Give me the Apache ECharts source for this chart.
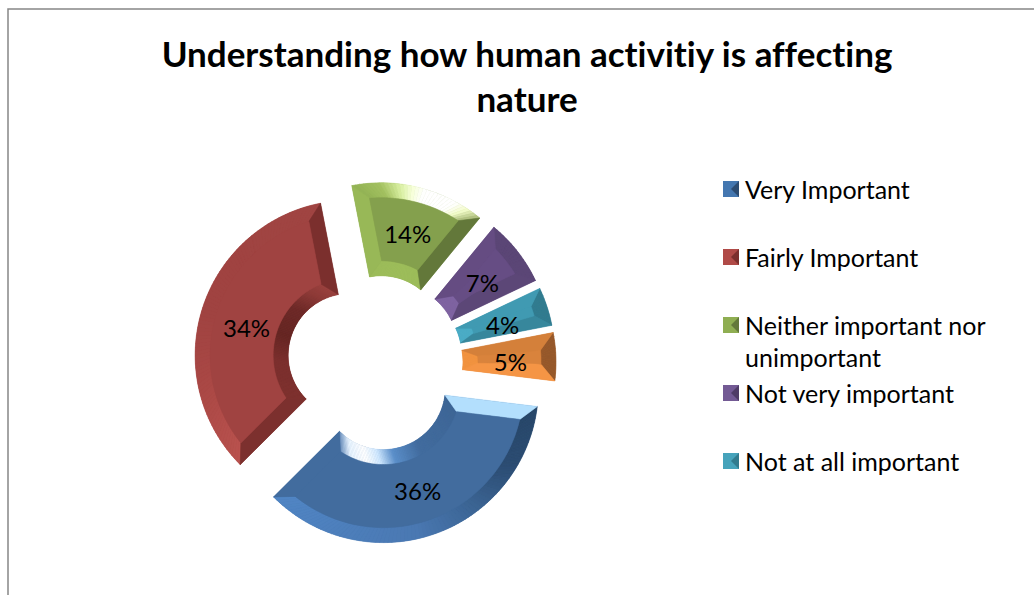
<!DOCTYPE html>
<html>
<head>
<meta charset="utf-8">
<style>html,body{margin:0;padding:0;background:#fff;overflow:hidden}#c{width:1034px;height:595px}#c text{font-variant-ligatures:none}</style>
<script src="https://cdn.jsdelivr.net/npm/echarts@6/dist/echarts.min.js"></script>
</head>
<body>
<div id="c"></div>
<script>
var chartTitle = 'Understanding how human activitiy is affecting\nnature';
var categories = ['Very Important','Fairly Important','Neither important nor unimportant','Not very important','Not at all important','Other'];
var values = [35.6,34.4,14,7,4,5];
var legendNames = categories.slice(0,5);
var labelOffsets = [[-2,-3],[3,5],[-1,4],[-1,4],[-3,4],[-2,3]];
var faceColors = ['#426c9e','#a04341','#84a04d','#664d84','#409ab2','#d9833c'];
var iconColors = ['#4477b0','#b04a47','#8fae52','#735a94','#46a3bb','#e08a3e'];
var iconDark = ['#2c4c72','#7b2f2d','#63783a','#4f3c66','#317b8e','#95582a'];
var outerBands = [
  [[0,'#274668'],[.18,'#2c4c72'],[.35,'#3b6493'],[.55,'#4a78b2'],[1,'#5085c4']],
  [[0,'#b9524e'],[.25,'#aa4845'],[.5,'#a04341'],[1,'#a04442']],
  [[0,'#92b254'],[.2,'#a3c160'],[.35,'#d8efa0'],[.45,'#f6ffd8'],[.55,'#ffffff'],[.8,'#ffffff'],[.9,'#f1fbc6'],[1,'#a8b878']],
  [[0,'#5b4676'],[1,'#5b4676']],
  [[0,'#317b8e'],[1,'#317b8e']],
  [[0,'#95582a'],[1,'#95582a']]
];
var innerBands = [
  [[0,'#3d6595'],[.4,'#426c9e'],[.59,'#5b8fca'],[.7,'#cfe8ff'],[.8,'#ffffff'],[.92,'#e8f4ff'],[1,'#6f93bf']],
  [[0,'#7c302e'],[.3,'#7b2f2d'],[.5,'#642522'],[.72,'#6c2927'],[.88,'#8c3a37'],[1,'#9a413e']],
  [[0,'#9dbd5a'],[1,'#9dbd5a']],
  [[0,'#8064a2'],[1,'#8064a2']],
  [[0,'#4bacc6'],[1,'#4bacc6']],
  [[0,'#f29340'],[1,'#f29340']]
];
var startEdges = ['#b3dffd','#7c302e','#98b857','#654c82','#409ab2','#d4803a'];
var endEdges = ['#426c9e','#7b2f2d','#63783a','#5c4777','#37879c','#f59545'];

var CX = 375, CY = 363, R0 = 62, R1 = 155, OFFSET = 26, BEVEL = 15, START_CW = 97;

var total = values.reduce(function(a,b){return a+b;},0);
var cumulative = [];
values.reduce(function(acc,v){cumulative.push(acc);return acc+v;},0);

function hex(c){return [parseInt(c.substr(1,2),16),parseInt(c.substr(3,2),16),parseInt(c.substr(5,2),16)];}
function colorAt(stops,t){
  for(var i=1;i<stops.length;i++){
    if(t<=stops[i][0]){
      var a=stops[i-1],b=stops[i],k=(t-a[0])/((b[0]-a[0])||1);
      var ca=hex(a[1]),cb=hex(b[1]);
      return 'rgb('+Math.round(ca[0]+(cb[0]-ca[0])*k)+','+Math.round(ca[1]+(cb[1]-ca[1])*k)+','+Math.round(ca[2]+(cb[2]-ca[2])*k)+')';
    }
  }
  return stops[stops.length-1][1];
}
function renderBevel(params){
  var i = params.dataIndex;
  var a0 = START_CW + cumulative[i]/total*360;
  var span = values[i]/total*360;
  var a1 = a0 + span;
  var mid = (a0+a1)/2*Math.PI/180;
  var ox = CX + OFFSET*Math.sin(mid), oy = CY - OFFSET*Math.cos(mid);
  function pt(r,deg){var d=deg*Math.PI/180;return [ox+r*Math.sin(d),oy-r*Math.cos(d)];}
  function inset(r){return Math.min(Math.asin(Math.min(1,BEVEL/r))*180/Math.PI,span/2*0.72);}
  var r0f=R0+BEVEL, r1f=R1-BEVEL;
  var children=[];
  function poly(points,fill){children.push({type:'polygon',shape:{points:points},style:{fill:fill,stroke:fill,lineWidth:0.6},silent:true});}
  var N=Math.max(6,Math.round(span/1.5)), k;
  for(k=0;k<N;k++){
    var t0=k/N,t1=(k+1)/N,tm=(t0+t1)/2;
    var ang0=a0+span*t0, ang1=a0+span*t1;
    var insO=inset(r1f), insI=inset(r0f);
    var fo0=a0+insO+(span-2*insO)*t0, fo1=a0+insO+(span-2*insO)*t1;
    var fi0=a0+insI+(span-2*insI)*t0, fi1=a0+insI+(span-2*insI)*t1;
    poly([pt(R1,ang0),pt(R1,ang1),pt(r1f,fo1),pt(r1f,fo0)],colorAt(outerBands[i],tm));
    poly([pt(R0,ang0),pt(R0,ang1),pt(r0f,fi1),pt(r0f,fi0)],colorAt(innerBands[i],tm));
  }
  var M=12, sideA=[], sideB=[], outerF=[], innerF=[];
  for(k=0;k<=M;k++){
    var r=r0f+(r1f-r0f)*k/M, ins=inset(r);
    sideA.push(pt(r,a0+ins)); sideB.push(pt(r,a1-ins));
  }
  poly([pt(R0,a0),pt(R1,a0)].concat(sideA.slice().reverse()),startEdges[i]);
  poly([pt(R0,a1),pt(R1,a1)].concat(sideB.slice().reverse()),endEdges[i]);
  var insO2=inset(r1f), insI2=inset(r0f);
  for(k=0;k<=N;k++){
    outerF.push(pt(r1f,a0+insO2+(span-2*insO2)*k/N));
    innerF.push(pt(r0f,a1-insI2-(span-2*insI2)*k/N));
  }
  poly(outerF.concat(sideB.slice().reverse().slice(1,-1)).concat(innerF).concat(sideA.slice(1,-1)),faceColors[i]);
  return {type:'group',children:children};
}

function pieData(withColor){
  return categories.map(function(n,i){
    return {name:n,value:values[i],selected:true,itemStyle:{color:withColor?faceColors[i]:'rgba(0,0,0,0)'}};
  });
}
var legendIconGraphics = legendNames.map(function(n,i){
  return {type:'polygon',z:100,silent:true,shape:{points:[[739,181+68*i],[739,197+68*i],[731,189+68*i]]},style:{fill:iconDark[i]}};
});

var chart = echarts.init(document.getElementById('c'),null,{renderer:'svg'});
chart.setOption({
  animation:false,
  backgroundColor:'#fff',
  title:{text:chartTitle,left:527,top:30,padding:0,textAlign:'center',
    textStyle:{fontFamily:'Lato',fontWeight:'bold',fontSize:35,lineHeight:45,color:'#000'}},
  legend:{show:true,orient:'vertical',left:723,top:174,padding:0,itemWidth:16,itemHeight:16,itemGap:38,
    selectedMode:false,icon:'rect',
    data:legendNames.map(function(n,i){return {name:n,itemStyle:{color:iconColors[i]}};}),
    formatter:function(n){return n.replace(' unimportant','');},
    textStyle:{fontFamily:'Lato',fontSize:25,lineHeight:24,color:'#000',padding:[0,0,6,1]}},
  graphic:[
    {type:'rect',silent:true,z:-1,shape:{x:8,y:9,width:1200,height:800},style:{fill:'none',stroke:'#868686',lineWidth:1.5}},
    {type:'text',silent:true,x:745,y:357,style:{text:'unimportant',font:'25px Lato',fill:'#000',textVerticalAlign:'middle'}}
  ].concat(legendIconGraphics),
  series:[
    {type:'pie',name:'Importance',z:1,center:[CX,CY],radius:[R0,R1],startAngle:90-START_CW,clockwise:true,
      selectedMode:'multiple',selectedOffset:OFFSET,silent:true,label:{show:false},labelLine:{show:false},
      emphasis:{disabled:true},data:pieData(true)},
    {type:'custom',name:'Bevel',z:2,coordinateSystem:'none',silent:true,renderItem:renderBevel,data:values},
    {type:'pie',name:'Labels',z:3,center:[CX,CY],radius:[R0,R1],startAngle:90-START_CW,clockwise:true,
      selectedMode:'multiple',selectedOffset:OFFSET,silent:true,legendHoverLink:false,
      label:{show:true,position:'inside',formatter:function(p){return Math.round(p.value)+'%';},fontFamily:'Lato',fontSize:24,color:'#000'},
      labelLayout:function(p){return {dx:labelOffsets[p.dataIndex][0],dy:labelOffsets[p.dataIndex][1]};},
      labelLine:{show:false},emphasis:{disabled:true},data:pieData(false)}
  ]
});
</script>
</body>
</html>
